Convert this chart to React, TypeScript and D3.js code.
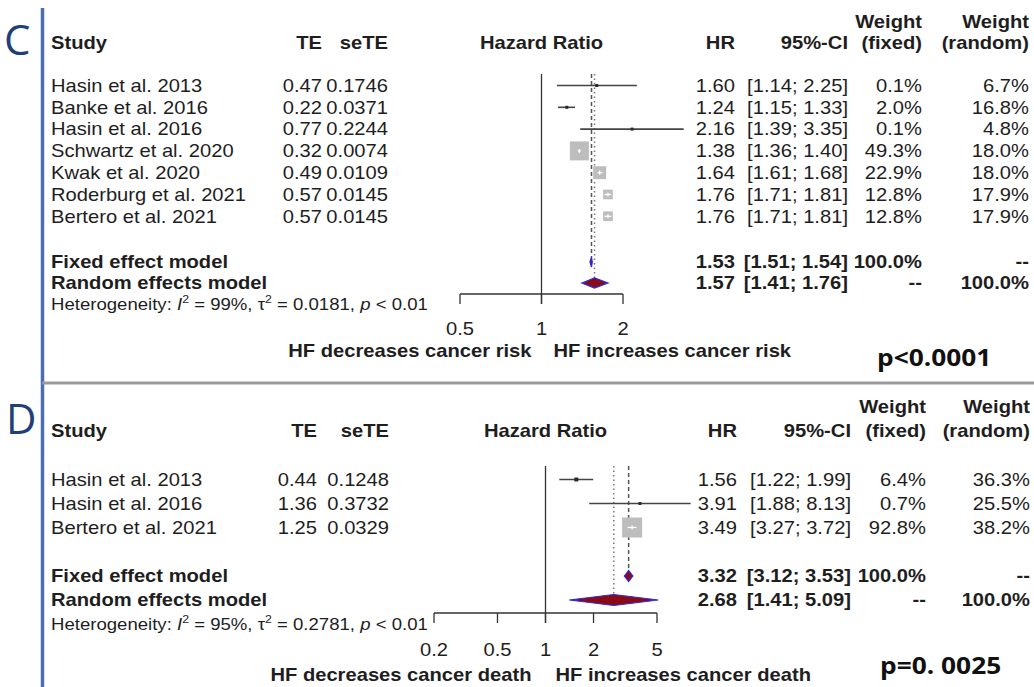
import React from "react";
import * as d3 from "d3";

// ---------- Panel C data ----------
const cStudies = ["Hasin et al. 2013", "Banke et al. 2016", "Hasin et al. 2016", "Schwartz et al. 2020", "Kwak et al. 2020", "Roderburg et al. 2021", "Bertero et al. 2021"];
const cTE = [0.47, 0.22, 0.77, 0.32, 0.49, 0.57, 0.57];
const cSeTE = [0.1746, 0.0371, 0.2244, 0.0074, 0.0109, 0.0145, 0.0145];
const cHR = [1.6, 1.24, 2.16, 1.38, 1.64, 1.76, 1.76];
const cLower = [1.14, 1.15, 1.39, 1.36, 1.61, 1.71, 1.71];
const cUpper = [2.25, 1.33, 3.35, 1.4, 1.68, 1.81, 1.81];
const cWFixed = [0.1, 2.0, 0.1, 49.3, 22.9, 12.8, 12.8];
const cWRandom = [6.7, 16.8, 4.8, 18.0, 18.0, 17.9, 17.9];
const cFixed = [1.53, 1.51, 1.54];
const cRandom = [1.57, 1.41, 1.76];
const cTicks = [0.5, 1, 2];
const cHet = ["99%", "0.0181", "0.01"];
const cLabels = ["HF decreases cancer risk", "HF increases cancer risk"];
const cP = "p<0.0001";

// ---------- Panel D data ----------
const dStudies = ["Hasin et al. 2013", "Hasin et al. 2016", "Bertero et al. 2021"];
const dTE = [0.44, 1.36, 1.25];
const dSeTE = [0.1248, 0.3732, 0.0329];
const dHR = [1.56, 3.91, 3.49];
const dLower = [1.22, 1.88, 3.27];
const dUpper = [1.99, 8.13, 3.72];
const dWFixed = [6.4, 0.7, 92.8];
const dWRandom = [36.3, 25.5, 38.2];
const dFixed = [3.32, 3.12, 3.53];
const dRandom = [2.68, 1.41, 5.09];
const dTicks = [0.2, 0.5, 1, 2, 5];
const dHet = ["95%", "0.2781", "0.01"];
const dLabels = ["HF decreases cancer death", "HF increases cancer death"];
const dP = "p=0. 0025";

const FONT = "'Liberation Sans', Arial, Helvetica, sans-serif";
const SX = 1.12;

function T({ x, y, anchor = "start", bold = false, size = 18, fill = "#1e1e1e", family = FONT, children }: any) {
  return (
    <text
      transform={`translate(${x},${y}) scale(${SX},1)`}
      textAnchor={anchor}
      dy="0.35em"
      fontFamily={family}
      fontSize={size}
      fontWeight={bold ? "bold" : "normal"}
      fill={fill}
    >
      {children}
    </text>
  );
}

function Panel({ c }: any) {
  const x = d3.scaleLog().domain([c.ticks[0], c.ticks[c.ticks.length - 1]]).range(c.range);
  const rowY = (i: number) => c.row0 + i * c.step;
  const fixedY = c.fixedY;
  const randomY = c.randomY;
  const wmax = d3.max(c.wFixed) as number;
  const size = d3.scaleSqrt().domain([0, wmax]).range([0, c.maxBox]);
  const mid = (c.range[0] + c.range[1]) / 2;
  const f2 = d3.format(".2f");
  const f4 = d3.format(".4f");
  const fw = (w: number) => d3.format(".1f")(w) + "%";
  const ci = (lo: number, hi: number) => `[${f2(lo)}; ${f2(hi)}]`;
  const dh = c.diamondH;
  const diamond = (v: number[], y: number) =>
    `M${x(v[1])},${y} L${x(v[0])},${y - dh / 2} L${x(v[2])},${y} L${x(v[0])},${y + dh / 2} Z`;
  const col = c.cols;

  return (
    <g>
      {/* headers */}
      <T x={col.study} y={c.headY} bold>Study</T>
      <T x={col.te} y={c.headY} bold anchor="end">TE</T>
      <T x={col.se} y={c.headY} bold anchor="end">seTE</T>
      <T x={mid} y={c.headY} bold anchor="middle">Hazard Ratio</T>
      <T x={col.hr} y={c.headY} bold anchor="end">HR</T>
      <T x={col.ci} y={c.headY} bold anchor="end">95%-CI</T>
      <T x={col.wf} y={c.headY - c.step} bold anchor="end">Weight</T>
      <T x={col.wr} y={c.headY - c.step} bold anchor="end">Weight</T>
      <T x={col.wf} y={c.headY} bold anchor="end">(fixed)</T>
      <T x={col.wr} y={c.headY} bold anchor="end">(random)</T>

      {/* study rows text */}
      {c.studies.map((s: string, i: number) => (
        <g key={s + i}>
          <T x={col.study} y={rowY(i)}>{s}</T>
          <T x={col.te} y={rowY(i)} anchor="end">{f2(c.te[i])}</T>
          <T x={col.se} y={rowY(i)} anchor="end">{f4(c.se[i])}</T>
          <T x={col.hr} y={rowY(i)} anchor="end">{f2(c.hr[i])}</T>
          <T x={col.ci} y={rowY(i)} anchor="end">{ci(c.lo[i], c.hi[i])}</T>
          <T x={col.wf} y={rowY(i)} anchor="end">{fw(c.wFixed[i])}</T>
          <T x={col.wr} y={rowY(i)} anchor="end">{fw(c.wRandom[i])}</T>
        </g>
      ))}

      {/* pooled rows */}
      <T x={col.study} y={fixedY} bold>Fixed effect model</T>
      <T x={col.hr} y={fixedY} bold anchor="end">{f2(c.fixed[0])}</T>
      <T x={col.ci} y={fixedY} bold anchor="end">{ci(c.fixed[1], c.fixed[2])}</T>
      <T x={col.wf} y={fixedY} bold anchor="end">100.0%</T>
      <T x={col.wr} y={fixedY} bold anchor="end">--</T>
      <T x={col.study} y={randomY} bold>Random effects model</T>
      <T x={col.hr} y={randomY} bold anchor="end">{f2(c.random[0])}</T>
      <T x={col.ci} y={randomY} bold anchor="end">{ci(c.random[1], c.random[2])}</T>
      <T x={col.wf} y={randomY} bold anchor="end">--</T>
      <T x={col.wr} y={randomY} bold anchor="end">100.0%</T>

      {/* heterogeneity */}
      <text
        transform={`translate(${col.study},${c.hetY}) scale(${SX},1)`}
        dy="0.35em"
        fontFamily={FONT}
        fontSize={16.6}
        fill="#1e1e1e"
      >
        <tspan>Heterogeneity: </tspan>
        <tspan fontStyle="italic">I</tspan>
        <tspan fontSize={11} dy={-7}>2</tspan>
        <tspan dy={7}>{` = ${c.het[0]}, τ`}</tspan>
        <tspan fontSize={11} dy={-7}>2</tspan>
        <tspan dy={7}>{` = ${c.het[1]}, `}</tspan>
        <tspan fontStyle="italic">p</tspan>
        <tspan>{` < ${c.het[2]}`}</tspan>
      </text>

      {/* reference line at 1 */}
      <line x1={x(1)} x2={x(1)} y1={c.refTop} y2={c.axisY + 10} stroke="#333" strokeWidth={1.3} />

      {/* pooled estimate lines */}
      <line x1={x(c.fixed[0])} x2={x(c.fixed[0])} y1={c.refTop} y2={fixedY - dh / 2} stroke="#555" strokeWidth={1.5} strokeDasharray="4,3" />
      <line x1={x(c.random[0])} x2={x(c.random[0])} y1={c.refTop} y2={randomY - dh / 2} stroke="#777" strokeWidth={1.5} strokeDasharray="1.5,3" />

      {/* study CIs and boxes */}
      {c.studies.map((s: string, i: number) => {
        const y = rowY(i);
        const raw = size(c.wFixed[i]);
        const big = raw > 6;
        const bs = big ? raw : Math.max(raw * 0.75, 3);
        const x0 = x(c.lo[i]);
        const x1 = x(c.hi[i]);
        const cx = x(c.hr[i]);
        const inside = x1 - x0 < bs;
        return (
          <g key={"f" + i}>
            {!inside && <line x1={x0} x2={x1} y1={y} y2={y} stroke="#444" strokeWidth={1.6} />}
            <rect x={cx - bs / 2} y={y - bs / 2} width={bs} height={bs} fill={big ? "#bdbdbd" : "#2a2a2a"} />
            {inside && <line x1={x0} x2={x1} y1={y} y2={y} stroke="#fff" strokeWidth={1.3} />}
            {inside && <line x1={cx} x2={cx} y1={y - 2} y2={y + 2} stroke="#fff" strokeWidth={1.3} />}
          </g>
        );
      })}

      {/* diamonds */}
      <path d={diamond(c.fixed, fixedY)} fill="#8b0a14" stroke="#2a2ae0" strokeWidth={1.2} />
      <path d={diamond(c.random, randomY)} fill="#8b0a14" stroke="#2a2ae0" strokeWidth={1.2} />

      {/* axis */}
      <line x1={c.range[0]} x2={c.range[1]} y1={c.axisY} y2={c.axisY} stroke="#333" strokeWidth={1.3} />
      {c.ticks.map((t: number) => (
        <g key={"t" + t}>
          <line x1={x(t)} x2={x(t)} y1={c.axisY} y2={c.axisY + 10} stroke="#333" strokeWidth={1.3} />
          <T x={x(t)} y={c.tickLabelY} anchor="middle">{String(t)}</T>
        </g>
      ))}
      <T x={x(1) - c.labelGap[0]} y={c.labelY} anchor="end" bold>{c.labels[0]}</T>
      <T x={x(1) + c.labelGap[1]} y={c.labelY} bold>{c.labels[1]}</T>

      {/* p value */}
      <T x={c.pX} y={c.pY} bold size={23.5} family="'Open Sans', 'Liberation Sans', sans-serif" fill="#111">{c.p}</T>
    </g>
  );
}

const colsC = { study: 51, te: 322, se: 388, hr: 735, ci: 848, wf: 922, wr: 1029 };
const colsD = { study: 51, te: 317, se: 389, hr: 737, ci: 851, wf: 926, wr: 1030 };

const panelC = {
  studies: cStudies, te: cTE, se: cSeTE, hr: cHR, lo: cLower, hi: cUpper,
  wFixed: cWFixed, wRandom: cWRandom, fixed: cFixed, random: cRandom,
  ticks: cTicks, het: cHet, labels: cLabels, p: cP,
  range: [460, 623], row0: 85.5, step: 21.8, headY: 43, fixedY: 262, randomY: 283, hetY: 304,
  refTop: 74, axisY: 294, tickLabelY: 329, labelY: 351, labelGap: [10, 12],
  maxBox: 19, diamondH: 10, cols: colsC, pX: 877, pY: 358,
};

const panelD = {
  studies: dStudies, te: dTE, se: dSeTE, hr: dHR, lo: dLower, hi: dUpper,
  wFixed: dWFixed, wRandom: dWRandom, fixed: dFixed, random: dRandom,
  ticks: dTicks, het: dHet, labels: dLabels, p: dP,
  range: [434, 657], row0: 479.5, step: 24, headY: 431, fixedY: 576, randomY: 600, hetY: 624,
  refTop: 466, axisY: 613, tickLabelY: 650, labelY: 675, labelGap: [14, 10],
  maxBox: 20, diamondH: 11, cols: colsD, pX: 880, pY: 666,
};

export default function App() {
  return (
    <svg
      width={1034}
      height={687}
      viewBox="0 0 1034 687"
      style={{ position: "absolute", left: 0, top: 0, background: "#fff" }}
    >
      <rect x={0} y={0} width={1034} height={687} fill="#fff" />
      {/* panel frame */}
      <line x1={42.5} x2={42.5} y1={8} y2={687} stroke="#4a6db3" strokeWidth={3.5} />
      <line x1={42} x2={1034} y1={383} y2={383} stroke="#9a9a9a" strokeWidth={3} />
      <text x={4} y={55} fontFamily="'Open Sans', 'Liberation Sans', sans-serif" fontSize={42} fill="#1f3f7a">C</text>
      <text x={6} y={434} fontFamily="'Open Sans', 'Liberation Sans', sans-serif" fontSize={42} fill="#1f3f7a">D</text>
      <Panel c={panelC} />
      <Panel c={panelD} />
    </svg>
  );
}
